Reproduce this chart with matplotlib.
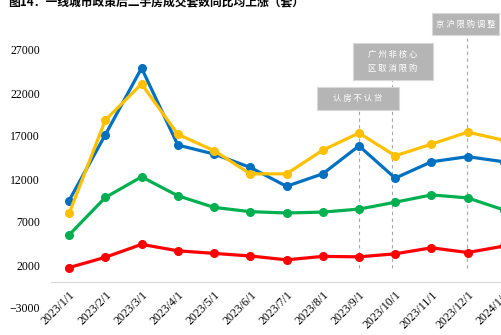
import numpy as np
import matplotlib.pyplot as plt
from matplotlib.patches import Rectangle

plt.rcParams['font.family'] = ['Liberation Serif', 'Noto Sans CJK SC']

dates = ['2023/1/1', '2023/2/1', '2023/3/1', '2023/4/1', '2023/5/1', '2023/6/1', '2023/7/1',
         '2023/8/1', '2023/9/1', '2023/10/1', '2023/11/1', '2023/12/1', '2024/1/1']
blue = [9500, 17150, 24900, 15950, 14900, 13350, 11150, 12600, 15850, 12100, 14000, 14600, 14000]
yellow = [8000, 18850, 23050, 17200, 15300, 12600, 12600, 15350, 17350, 14700, 16050, 17450, 16500]
green = [5500, 9850, 12250, 10050, 8700, 8200, 8050, 8150, 8500, 9300, 10150, 9800, 8400]
red = [1700, 2900, 4400, 3650, 3350, 3050, 2600, 3000, 2950, 3300, 4000, 3450, 4200]

yticks = [-3000, 2000, 7000, 12000, 17000, 22000, 27000]
title = '图14：一线城市政策后二手房成交套数同比均上涨（套）'

event_text = ['认 房 不 认 贷', '广 州 非 核 心\n区 取 消 限 购', '京 沪 限 购 调 整']
event_x = [8, 8.92, 10.97]

W, H = 501, 335
# annotation boxes in pixels: left, top, right, bottom
boxes = [(317, 87, 399, 110), (353, 43, 433, 80), (432, 13, 499, 35)]

fig = plt.figure(figsize=(W / 100, H / 100), dpi=100)
ax = fig.add_axes([51 / W, 27 / H, 471 / W, 258 / H])

x = np.arange(len(dates))
for ys, c in [(blue, '#0070C0'), (yellow, '#FFC000'), (green, '#00B050'), (red, '#FF0000')]:
    ax.plot(x, ys, color=c, lw=2.3, marker='o', ms=5.5, zorder=3)

ax.set_xlim(-0.5, 12.5)
ax.set_ylim(-3000, 27000)

for xi, txt, (l, t, r, b) in zip(event_x, event_text, boxes):
    # dashed line from bottom of the box down to ~1650
    top_val = ax.transData.inverted().transform((0, H - b))[1]
    ax.plot([xi, xi], [1650, top_val], color='#a6a6a6', lw=0.8, ls=(0, (3, 3)),
            zorder=1, clip_on=False)
    fig.add_artist(Rectangle((l / W, 1 - b / H), (r - l) / W, (b - t) / H,
                             transform=fig.transFigure, fc='#b5b5b5', ec='#d9d9d9', lw=0.8))
    fig.text((l + r) / 2 / W, 1 - (t + b) / 2 / H, txt, ha='center', va='center',
             color='white', fontsize=6, family='Noto Sans CJK SC', linespacing=1.6)

ax.set_yticks(yticks)
ax.set_xticks(x)
ax.set_xticklabels(dates)
for s in ['top', 'right', 'left']:
    ax.spines[s].set_visible(False)
ax.spines['bottom'].set_position(('data', 0))
ax.spines['bottom'].set_color('#d9d9d9')
ax.tick_params(axis='both', length=0, labelsize=8.5)
ax.tick_params(axis='y', pad=8)
ax.tick_params(axis='x', pad=5)
plt.setp(ax.get_xticklabels(), rotation=45, ha='right', va='top', rotation_mode='anchor')

fig.text(8 / W, 1 - 3 / H, title, ha='left', va='center', fontsize=8.5, fontweight='bold',
         family=['Noto Sans CJK SC'])

fig.savefig('out.png', dpi=100)
